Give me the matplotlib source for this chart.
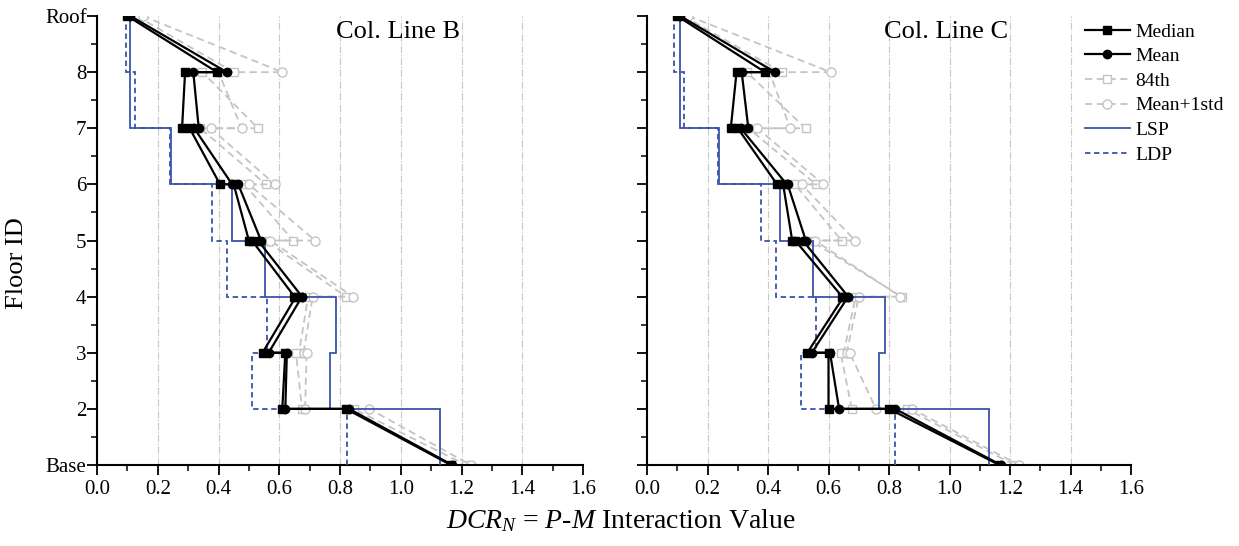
import matplotlib
matplotlib.use("Agg")
import matplotlib.pyplot as plt
import numpy as np
from matplotlib.ticker import MultipleLocator

plt.rcParams["font.family"] = ["Liberation Serif", "DejaVu Serif"]
plt.rcParams["mathtext.fontset"] = "custom"
plt.rcParams["mathtext.rm"] = "Liberation Serif"
plt.rcParams["mathtext.it"] = "Liberation Serif:italic"

# Floor levels (Base = 1 ... Roof = 9) and their labels
floor_labels = ["Base", "2", "3", "4", "5", "6", "7", "8", "Roof"]

# Column DCR values per story, listed from story 8 (Roof-8) down to story 1 (2-Base).
# "top" is the value at the upper end of the story column, "bot" at the lower end.

# ---- Column line B ----
b_median_top = [0.10, 0.290, 0.305, 0.450, 0.510, 0.655, 0.620, 0.820]
b_median_bot = [0.395, 0.280, 0.405, 0.500, 0.650, 0.545, 0.610, 1.165]
b_mean_top = [0.11, 0.317, 0.320, 0.465, 0.530, 0.675, 0.625, 0.830]
b_mean_bot = [0.427, 0.335, 0.445, 0.540, 0.675, 0.565, 0.620, 1.170]
b_p84_top = [0.13, 0.347, 0.340, 0.485, 0.555, 0.695, 0.655, 0.845]
b_p84_bot = [0.450, 0.530, 0.556, 0.646, 0.820, 0.665, 0.675, 1.215]
b_m1s_top = [0.15, 0.400, 0.374, 0.500, 0.570, 0.710, 0.690, 0.897]
b_m1s_bot = [0.610, 0.476, 0.586, 0.718, 0.843, 0.680, 0.685, 1.230]
b_lsp = [0.110, 0.110, 0.244, 0.443, 0.553, 0.787, 0.767, 1.129]
b_ldp = [0.094, 0.125, 0.240, 0.380, 0.427, 0.559, 0.511, 0.822]

# ---- Column line C ----
c_median_top = [0.10, 0.296, 0.300, 0.450, 0.490, 0.650, 0.600, 0.800]
c_median_bot = [0.390, 0.277, 0.430, 0.480, 0.645, 0.530, 0.600, 1.165]
c_mean_top = [0.11, 0.313, 0.310, 0.465, 0.515, 0.665, 0.605, 0.820]
c_mean_bot = [0.423, 0.335, 0.462, 0.525, 0.665, 0.545, 0.635, 1.170]
c_p84_top = [0.12, 0.330, 0.335, 0.489, 0.540, 0.690, 0.640, 0.858]
c_p84_bot = [0.445, 0.524, 0.559, 0.643, 0.842, 0.650, 0.677, 1.215]
c_m1s_top = [0.137, 0.405, 0.365, 0.511, 0.555, 0.700, 0.670, 0.875]
c_m1s_bot = [0.607, 0.473, 0.583, 0.688, 0.838, 0.660, 0.757, 1.230]
c_lsp = [0.109, 0.109, 0.239, 0.440, 0.550, 0.787, 0.768, 1.131]
c_ldp = [0.090, 0.122, 0.236, 0.377, 0.425, 0.559, 0.509, 0.820]

floors = np.arange(1, 10)          # 1 (Base) .. 9 (Roof)
story_upper = np.arange(9, 1, -1)  # upper floor of stories 8..1
story_lower = story_upper - 1


def profile(top, bot):
    """Interleave top/bottom values into a continuous profile down the building."""
    xs, ys = [], []
    for t, b, yu, yl in zip(top, bot, story_upper, story_lower):
        xs += [t, b]
        ys += [yu, yl]
    return np.array(xs), np.array(ys)


BLUE = "#3a55a8"
GREY = "#c4c4c4"

fig = plt.figure(figsize=(12.39, 5.46), dpi=100)
ax_b = fig.add_axes([97 / 1239, 81 / 546, 486 / 1239, 449 / 546])
ax_c = fig.add_axes([647 / 1239, 81 / 546, 484 / 1239, 449 / 546])

panels = [
    (ax_b, "Col. Line B",
     (b_median_top, b_median_bot), (b_mean_top, b_mean_bot),
     (b_p84_top, b_p84_bot), (b_m1s_top, b_m1s_bot), b_lsp, b_ldp),
    (ax_c, "Col. Line C",
     (c_median_top, c_median_bot), (c_mean_top, c_mean_bot),
     (c_p84_top, c_p84_bot), (c_m1s_top, c_m1s_bot), c_lsp, c_ldp),
]

for ax, title, med, mean, p84, m1s, lsp, ldp in panels:
    x, y = profile(*p84)
    h84, = ax.plot(x, y, ls="--", color=GREY, lw=1.3, marker="s", ms=5.5,
                   mfc="white", mec=GREY, mew=1.0, dashes=(4, 2.5), zorder=2,
                   label="84th")
    x, y = profile(*m1s)
    hm1, = ax.plot(x, y, ls="--", color=GREY, lw=1.3, marker="o", ms=6.5,
                   mfc="white", mec=GREY, mew=1.0, dashes=(4, 2.5), zorder=2,
                   label="Mean+1std")

    # LSP / LDP capacities as stepped profiles (values per story, edges = floor levels)
    lsp_vals = np.array(lsp[::-1])
    ldp_vals = np.array(ldp[::-1])
    ax.stairs(lsp_vals, floors, orientation="horizontal", baseline=None,
              color=BLUE, lw=1.3, zorder=3)
    ax.stairs(ldp_vals, floors, orientation="horizontal", baseline=None,
              color=BLUE, lw=1.3, ls=(0, (3, 2)), zorder=3)

    x, y = profile(*med)
    hmed, = ax.plot(x, y, color="black", lw=1.6, marker="s", ms=5.5,
                    zorder=5, label="Median")
    x, y = profile(*mean)
    hmean, = ax.plot(x, y, color="black", lw=1.6, marker="o", ms=6,
                     zorder=5, label="Mean")

    ax.set_xlim(0, 1.6)
    ax.set_ylim(1, 9)
    ax.xaxis.set_major_locator(MultipleLocator(0.2))
    ax.xaxis.set_minor_locator(MultipleLocator(0.1))
    ax.set_yticks(floors)
    ax.yaxis.set_minor_locator(MultipleLocator(0.5))
    ax.xaxis.set_major_formatter(matplotlib.ticker.FormatStrFormatter("%.1f"))
    ax.tick_params(axis="both", which="major", direction="out", length=7,
                   width=1.3, labelsize=15)
    ax.tick_params(axis="y", which="major", pad=0.5)
    ax.tick_params(axis="both", which="minor", direction="out", length=4,
                   width=1.1)
    ax.grid(axis="x", which="major", ls="-.", color="#c8c8c8", lw=0.8)
    ax.set_axisbelow(True)
    for side in ("top", "right"):
        ax.spines[side].set_visible(False)
    for side in ("left", "bottom"):
        ax.spines[side].set_linewidth(1.5)
    ax.text(0.99, 8.72, title, ha="center", va="center", fontsize=19)

ax_b.set_yticklabels(floor_labels)
ax_c.set_yticklabels([])
ax_b.set_ylabel("Floor ID", fontsize=19)
ax_b.yaxis.set_label_coords(-0.142, 0.45)

blue_solid, = ax_c.plot([], [], color=BLUE, lw=1.3, label="LSP")
blue_dash, = ax_c.plot([], [], color=BLUE, lw=1.3, ls=(0, (3, 2)), label="LDP")
legend_handles = [hmed, hmean, h84, hm1, blue_solid, blue_dash]
fig.legend(handles=legend_handles, loc="upper left",
           bbox_to_anchor=(1085 / 1239, 1 - 23 / 546), frameon=False,
           fontsize=14, handlelength=2.3, handletextpad=0.3, labelspacing=0.36,
           borderaxespad=0, borderpad=0)

fig.text(621 / 1239, 1 - 521 / 546,
         r"$DCR_N$ = $P$-$M$ Interaction Value",
         ha="center", va="center", fontsize=20)

fig.savefig("out.png", dpi=100)
